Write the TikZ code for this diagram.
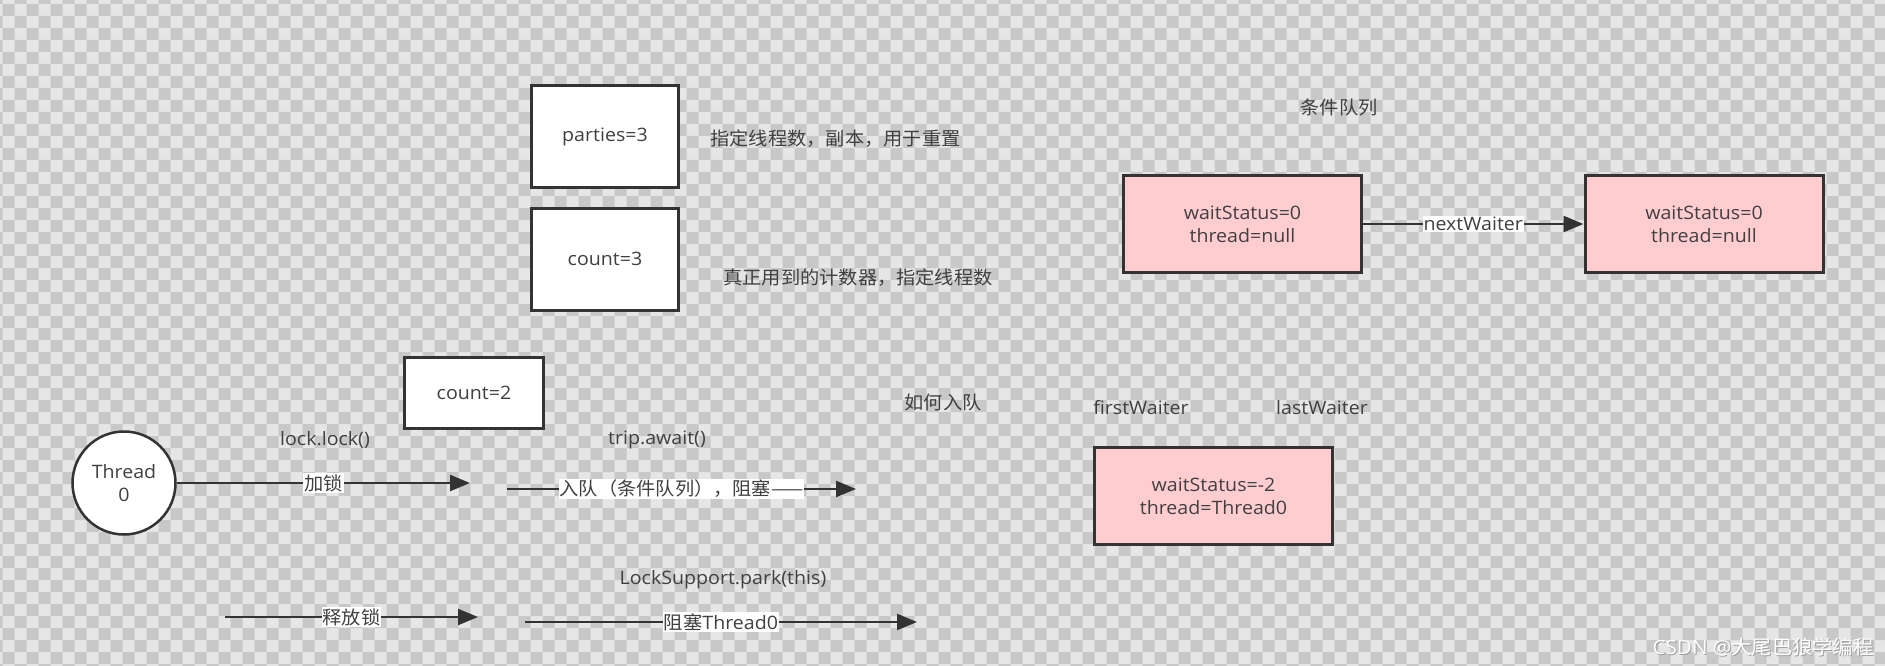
\documentclass[tikz,border=0pt]{standalone}
\usepackage{fontspec}
\setmainfont[FakeStretch=1.06]{Open Sans}
\newfontfamily\cjk[FakeStretch=1.04]{Noto Sans CJK SC}
\usetikzlibrary{arrows.meta}
\definecolor{lightsq}{RGB}{230,230,230}
\definecolor{darksq}{RGB}{200,200,200}
\definecolor{txt}{RGB}{64,64,64}
\definecolor{edgec}{RGB}{51,51,51}
\definecolor{pinkfill}{RGB}{255,204,208}
\begin{document}
\begin{tikzpicture}[x=1pt,y=-1pt,
  every node/.style={font=\fontsize{18.5}{23}\selectfont, text=txt},
  whitebox/.style={draw=edgec, line width=3pt, fill=white, minimum width=147pt, minimum height=102pt},
  pinkbox/.style={draw=edgec, line width=3pt, fill=pinkfill, minimum width=238pt, minimum height=97pt, align=center},
  conn/.style={draw=edgec, line width=2.3pt, -{Triangle[length=20pt,width=16pt]}},
  elabel/.style={fill=white, inner sep=1pt, text=txt}]
\useasboundingbox (0,0) rectangle (1885,666);
% checkerboard background
\begin{scope}
\clip (0,0) rectangle (1885,666);
\fill[lightsq] (0,0) rectangle (1885,666);
\fill[darksq] \foreach \j in {0,2,...,56} { \foreach \i in {0,2,...,158} { (\i*12-9.3,\j*12-8) rectangle ++(12,12) } };
\fill[darksq] \foreach \j in {1,3,...,57} { \foreach \i in {1,3,...,159} { (\i*12-9.3,\j*12-8) rectangle ++(12,12) } };
\end{scope}

% top-left boxes
\node[whitebox] (parties) at (605,136.5) {parties=3};
\node[whitebox] (count3) at (605,259) {count=3};
\node (t1) at (835.5,139) {\cjk 指定线程数，副本，用于重置};
\node (t2) at (858,278) {\cjk 真正用到的计数器，指定线程数};

% condition queue
\node (cq) at (1339,107) {\cjk 条件队列};
\node[pinkbox] (w1) at (1242.5,224) {waitStatus=0\\thread=null};
\node[pinkbox] (w2) at (1704,224) {waitStatus=0\\thread=null};
\draw[conn] (w1) -- node[elabel] {nextWaiter} (w2);

% middle
\node[whitebox, minimum width=139pt, minimum height=71pt] (count2) at (474,393) {count=2};
\node (how) at (943,402) {\cjk 如何入队};
\node (trip) at (657,440) {trip.await()};
\node (lock) at (325,440) {lock.lock()};
\node[circle, draw=edgec, line width=2.5pt, fill=white, minimum size=103pt, inner sep=0pt, align=center] (th) at (124,483) {Thread\\0};

\coordinate (a1e) at (470,483);
\draw[conn] (th) -- node[elabel] {\cjk 加锁} (a1e);

\coordinate (a2s) at (507,489);
\coordinate (a2e) at (856,489);
\draw[conn] (a2s) -- node[elabel] {\cjk 入队（条件队列），阻塞——} (a2e);

\node (fw) at (1141,408) {firstWaiter};
\node (lw) at (1322,408) {lastWaiter};
\node[pinkbox] (w3) at (1213.5,496) {waitStatus=-2\\thread=Thread0};

% bottom row
\node (park) at (723,580) {LockSupport.park(this)};
\coordinate (a3s) at (225,617);
\coordinate (a3e) at (478,617);
\draw[conn] (a3s) -- node[elabel] {\cjk 释放锁} (a3e);
\coordinate (a4s) at (525,622);
\coordinate (a4e) at (917,622);
\draw[conn] (a4s) -- node[elabel] {{\cjk 阻塞}Thread0} (a4e);

% watermark
\node[text=gray!75, font=\fontsize{19.5}{22}\selectfont] at (1764,648) {CSDN @{\cjk 大尾巴狼学编程}};
\node[text=white, font=\fontsize{19.5}{22}\selectfont] (wm) at (1763,647) {CSDN @{\cjk 大尾巴狼学编程}};
\end{tikzpicture}
\end{document}
